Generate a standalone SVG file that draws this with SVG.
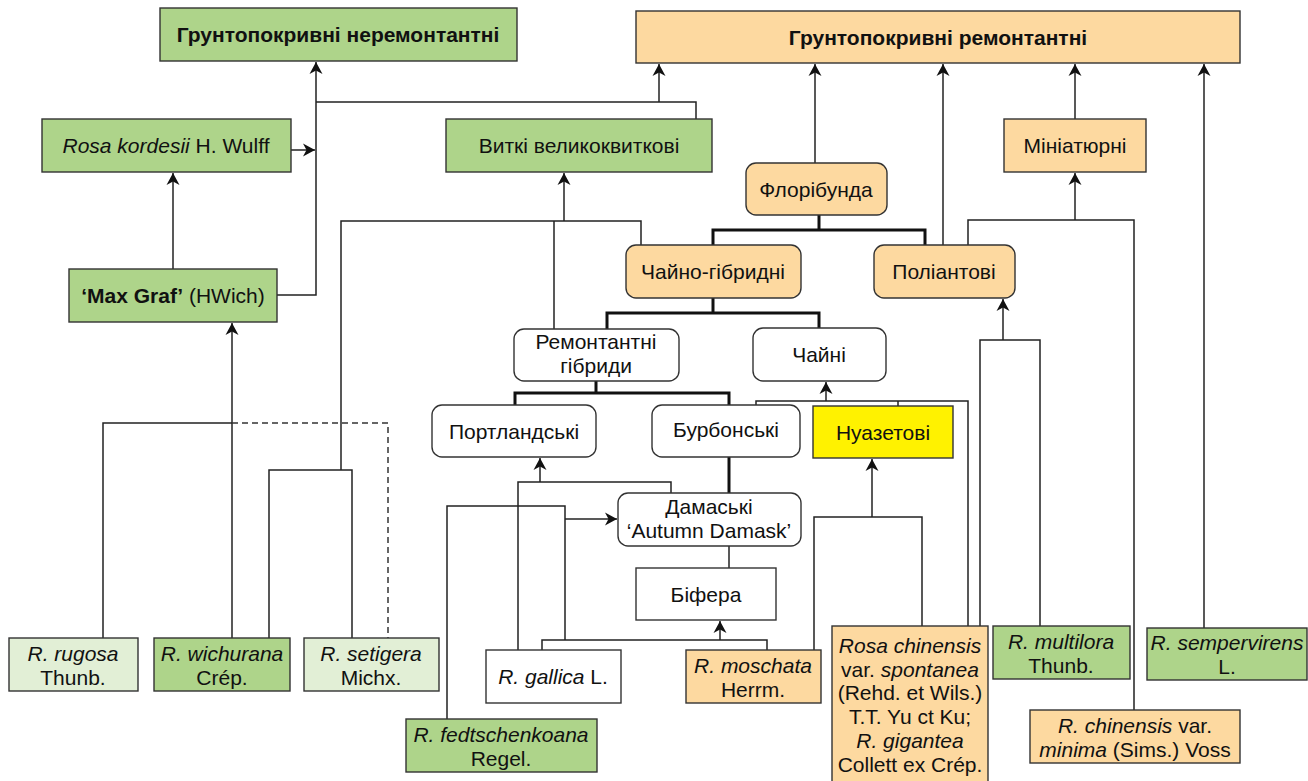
<svg xmlns="http://www.w3.org/2000/svg" width="1308" height="781" viewBox="0 0 1308 781">
<defs>
<style>
.bx{stroke:#333;stroke-width:1.4}
.g{fill:#aed48a}.lg{fill:#e2efd6}.o{fill:#fdd9a0}.w{fill:#fff}.y{fill:#fff200}
text{font-family:"Liberation Sans",Arial,sans-serif;font-size:21px;fill:#111;text-anchor:middle}
.b{font-weight:bold}
.i{font-style:italic}
.ln{fill:none;stroke:#222;stroke-width:1.5}
.tk{fill:none;stroke:#111;stroke-width:3}
.ds{fill:none;stroke:#333;stroke-width:1.5;stroke-dasharray:6 4}
.ar{fill:none;stroke:#222;stroke-width:1.5;marker-end:url(#arr)}
</style>
<marker id="arr" viewBox="0 0 12 14" refX="12" refY="7" markerWidth="12" markerHeight="14" orient="auto" markerUnits="userSpaceOnUse"><path d="M0,0.5 L12,7 L0,13.5 L3.5,7 z" fill="#111"/></marker>
</defs>
<rect width="1308" height="781" fill="#fff"/>
<g id="connectors">
<path class="ar" d="M277,295 H316 V62"/>
<path class="ar" d="M291,150 H315"/>
<path class="ln" d="M696,119 V102 H316"/>
<path class="ar" d="M659,102 V64"/>
<path class="ar" d="M173,269 V173"/>
<path class="ar" d="M232,638 V323"/>
<path class="ln" d="M103,638 V423 H232"/>
<path class="ds" d="M232,423 H388 V638"/>
<path class="ln" d="M269,638 V470 H352 V638"/>
<path class="ln" d="M341,470 V221 H641 V245"/>
<path class="ar" d="M564,221 V173"/>
<path class="ln" d="M554,221 V329"/>
<path class="tk" d="M713,298 V313"/>
<path class="tk" d="M607,329 V313 H819 V328"/>
<path class="tk" d="M819,215 V230"/>
<path class="tk" d="M713,245 V230 H925 V245"/>
<path class="ar" d="M815,163 V64"/>
<path class="ar" d="M943,245 V64"/>
<path class="ln" d="M968,245 V220 H1134 V710"/>
<path class="ar" d="M1075,220 V173"/>
<path class="ar" d="M1075,119 V64"/>
<path class="ar" d="M1204,628 V64"/>
<path class="ln" d="M980,626 V340 H1040 V626"/>
<path class="ar" d="M1003,340 V299"/>
<path class="ln" d="M756,405 V401 H968 V626"/>
<path class="ln" d="M898,401 V406"/>
<path class="ar" d="M826,401 V382"/>
<path class="tk" d="M596,381 V393"/>
<path class="tk" d="M515,405 V393 H729 V405"/>
<path class="tk" d="M729,457 V493"/>
<path class="ar" d="M540,482 V458"/>
<path class="ln" d="M518,650 V482 H671 V493"/>
<path class="ln" d="M729,546 V568"/>
<path class="ln" d="M447,719 V506 H565 V640"/>
<path class="ar" d="M565,519 H617"/>
<path class="ar" d="M720,640 V621"/>
<path class="ln" d="M542,650 V640 H767 V650"/>
<path class="ln" d="M814,650 V517 H922 V626"/>
<path class="ar" d="M872,517 V459"/>
</g>
<g id="n-top-nonrem"><rect class="bx g" x="160" y="8" width="357" height="53"/><text class="b" x="338" y="42">Грунтопокривні неремонтантні</text></g>
<g id="n-top-rem"><rect class="bx o" x="636" y="11" width="604" height="52"/><text class="b" x="938" y="45">Грунтопокривні ремонтантні</text></g>
<g id="n-kordesii"><rect class="bx g" x="42" y="119" width="249" height="53"/><text x="166" y="153"><tspan class="i">Rosa kordesii</tspan> H. Wulff</text></g>
<g id="n-vytki"><rect class="bx g" x="446" y="119" width="266" height="53"/><text x="579" y="153">Виткі великоквиткові</text></g>
<g id="n-mini"><rect class="bx o" x="1004" y="119" width="142" height="53"/><text x="1075" y="153">Мініатюрні</text></g>
<g id="n-flori"><rect class="bx o" x="746" y="163" width="141" height="52" rx="10"/><text x="816" y="197">Флорібунда</text></g>
<g id="n-maxgraf"><rect class="bx g" x="69" y="269" width="208" height="53"/><text x="173" y="303"><tspan class="b">‘Max Graf’</tspan> (HWich)</text></g>
<g id="n-chaino"><rect class="bx o" x="626" y="245" width="175" height="53" rx="10"/><text x="713" y="279">Чайно-гібридні</text></g>
<g id="n-polianth"><rect class="bx o" x="874" y="245" width="141" height="53" rx="10"/><text x="944" y="279">Поліантові</text></g>
<g id="n-remont"><rect class="bx w" x="514" y="329" width="165" height="52" rx="10"/><text x="596" y="349">Ремонтантні</text><text x="596" y="373">гібриди</text></g>
<g id="n-chaini"><rect class="bx w" x="753" y="328" width="133" height="53" rx="10"/><text x="819" y="362">Чайні</text></g>
<g id="n-portland"><rect class="bx w" x="432" y="405" width="164" height="52" rx="10"/><text x="514" y="439">Портландські</text></g>
<g id="n-bourbon"><rect class="bx w" x="652" y="405" width="148" height="52" rx="10"/><text x="726" y="437">Бурбонські</text></g>
<g id="n-noisette"><rect class="bx y" x="813" y="406" width="140" height="52"/><text x="883" y="440">Нуазетові</text></g>
<g id="n-damask"><rect class="bx w" x="618" y="493" width="183" height="53" rx="10"/><text x="709" y="514">Дамаські</text><text x="709" y="538">‘Autumn Damask’</text></g>
<g id="n-bifera"><rect class="bx w" x="636" y="568" width="140" height="52"/><text x="706" y="602">Біфера</text></g>
<g id="n-rugosa"><rect class="bx lg" x="9" y="638" width="129" height="53"/><text class="i" x="73" y="661">R. rugosa</text><text x="73" y="685">Thunb.</text></g>
<g id="n-wichurana"><rect class="bx g" x="154" y="638" width="136" height="53"/><text class="i" x="222" y="661">R. wichurana</text><text x="222" y="685">Crép.</text></g>
<g id="n-setigera"><rect class="bx lg" x="304" y="638" width="135" height="53"/><text class="i" x="371" y="661">R. setigera</text><text x="371" y="685">Michx.</text></g>
<g id="n-gallica"><rect class="bx w" x="486" y="650" width="135" height="53"/><text x="553" y="684"><tspan class="i">R. gallica</tspan> L.</text></g>
<g id="n-moschata"><rect class="bx o" x="686" y="650" width="135" height="53"/><text class="i" x="753" y="673">R. moschata</text><text x="753" y="697">Herrm.</text></g>
<g id="n-fedtsch"><rect class="bx g" x="406" y="719" width="191" height="53"/><text class="i" x="501" y="742">R. fedtschenkoana</text><text x="501" y="766">Regel.</text></g>
<g id="n-chinensis"><rect class="bx o" x="832" y="626" width="156" height="156"/><text class="i" x="910" y="653">Rosa chinensis</text><text x="910" y="677">var. <tspan class="i">spontanea</tspan></text><text x="910" y="700">(Rehd. et Wils.)</text><text x="910" y="724">T.T. Yu ct Ku;</text><text class="i" x="910" y="748">R. gigantea</text><text x="910" y="772">Collett ex Crép.</text></g>
<g id="n-multiflora"><rect class="bx g" x="993" y="626" width="137" height="53"/><text class="i" x="1061" y="649">R. multilora</text><text x="1061" y="673">Thunb.</text></g>
<g id="n-semper"><rect class="bx g" x="1147" y="628" width="160" height="52"/><text class="i" x="1227" y="650">R. sempervirens</text><text x="1227" y="674">L.</text></g>
<g id="n-minima"><rect class="bx o" x="1030" y="710" width="210" height="53"/><text x="1135" y="733"><tspan class="i">R. chinensis</tspan> var.</text><text x="1135" y="757"><tspan class="i">minima</tspan> (Sims.) Voss</text></g>
</svg>
